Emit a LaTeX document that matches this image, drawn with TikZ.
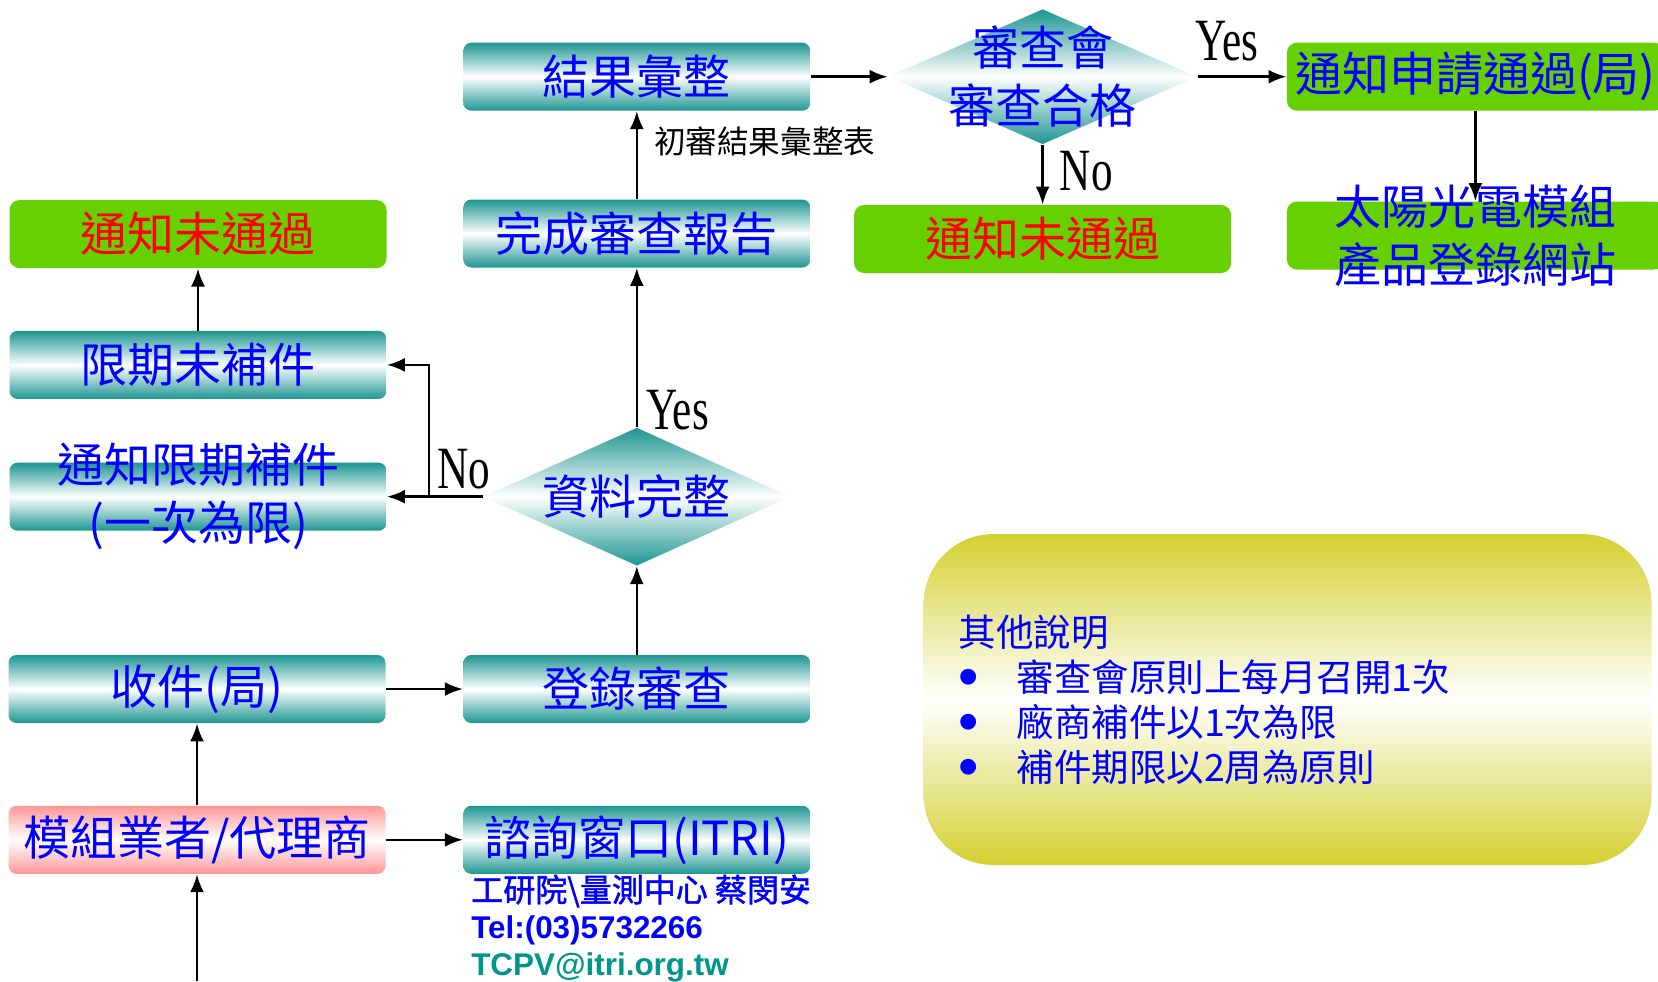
\documentclass[tikz,border=0pt]{standalone}
\usepackage{fontspec}
\usepackage{graphicx}
\setmainfont{Noto Sans CJK TC}
\newfontfamily\staffcjk{Noto Sans CJK TC}[FakeBold=1.5]
\newfontfamily\yesnofont{Liberation Serif}
\newfontfamily\contactfont{Liberation Sans}
\usetikzlibrary{positioning, arrows.meta, shapes.geometric}

\begin{document}
\begin{tikzpicture}[ node distance=31pt and 38.5pt,
flowbox/.style={rounded corners=4pt, minimum width=173.5pt, minimum height=34pt, inner sep=0pt, top color=boxteal, bottom color=boxteal, middle color=white, text=flowblue, font=\fontsize{23.5}{29}\selectfont, align=center},
widebox/.style={flowbox, minimum width=188.5pt},
vendorbox/.style={widebox, top color=vendorpink, bottom color=vendorpink, middle color=white},
resultbox/.style={fill=resultgreen, rounded corners=5pt, minimum width=188.5pt, minimum height=34pt, inner sep=0pt, font=\fontsize{23.5}{29}\selectfont, align=center},
decision/.style={diamond, minimum width=153.5pt, minimum height=69pt, inner sep=0pt, top color=boxteal, bottom color=boxteal, middle color=white},
boxtext/.style={text=flowblue, font=\fontsize{23.5}{29}\selectfont, align=center, inner sep=0pt},
notebox/.style={rounded corners=35pt, minimum width=364pt, minimum height=165.5pt, text width=329pt, inner xsep=17.5pt, inner ysep=0pt, top color=notegold, bottom color=notegold, middle color=white, text=flowblue, font=\fontsize{18.75}{22.5}\selectfont, align=left},
contact/.style={inner sep=0pt, align=left, text=flowblue, font=\contactfont\bfseries\fontsize{15.7}{18.5}\selectfont},
flownote/.style={inner sep=0pt, font=\fontsize{15.8}{19}\selectfont},
choice/.style={inner sep=0pt, font=\yesnofont\fontsize{30}{30}\selectfont},
arrow/.style={line width=1.3pt, -{Latex[length=9pt, width=7pt]}} ]

% Define colors
\definecolor{boxteal}{RGB}{30, 150, 146}
\definecolor{resultgreen}{RGB}{102, 208, 0}
\definecolor{vendorpink}{RGB}{255, 150, 150}
\definecolor{notegold}{RGB}{212, 208, 48}
\definecolor{flowblue}{RGB}{0, 0, 255}
\definecolor{failred}{RGB}{255, 0, 0}
\definecolor{mailteal}{RGB}{0, 150, 140}

\useasboundingbox (0pt,0pt) rectangle (829pt,-490.5pt);
\coordinate (frame south) at (0pt,-490.5pt);

% Nodes
\node[widebox] (recv) at (98.5pt,-344.5pt) {收件(局)};
\node[vendorbox, below=41pt of recv] (vendor) {模組業者/代理商};
\node[flowbox, right=of recv] (register) {登錄審查};
\node[flowbox, right=of vendor] (consult) {諮詢窗口(ITRI)};
\node[decision, above=44.25pt of register, label={[boxtext]center:資料完整}] (check) {};
\node[flowbox, above=79.7pt of check] (report) {完成審查報告};
\node[flowbox, above=44pt of report] (summary) {結果彙整};
\node[decision, minimum width=154.5pt, minimum height=67.5pt, right=of summary, label={[boxtext]center:審查會\\審查合格}] (review) {};
\node[resultbox, text=flowblue, right=44.5pt of review] (approve) {通知申請通過(局)};
\node[resultbox, below=45pt of approve, label={[boxtext]center:太陽光電模組\\產品登錄網站}] (website) {};
\node[resultbox, text=failred, below=30pt of review] (reject2) {通知未通過};
\node[widebox, left=48pt of check, label={[boxtext]center:通知限期補件\\(一次為限)}] (supplement) {};
\node[widebox, above=31.5pt of supplement] (overdue) {限期未補件};
\node[resultbox, text=failred, above=31pt of overdue] (reject1) {通知未通過};
\node[notebox, right=56.25pt of register, yshift=-5.25pt] (notes) {其他說明\\
\makebox[29pt][l]{\smash{\raisebox{-0.15em}{\scalebox{1.55}{\contactfont\textbullet}}}}審查會原則上每月召開1次\\
\makebox[29pt][l]{\smash{\raisebox{-0.15em}{\scalebox{1.55}{\contactfont\textbullet}}}}廠商補件以1次為限\\
\makebox[29pt][l]{\smash{\raisebox{-0.15em}{\scalebox{1.55}{\contactfont\textbullet}}}}補件期限以2周為原則};
\node[contact, below=0pt of consult.south west, anchor=north west, xshift=4pt] (itri) {{\staffcjk\mdseries\fontsize{16}{18.5}\selectfont 工研院\textbackslash 量測中心 蔡閔安}\\
Tel:(03)5732266\\
\textcolor{mailteal}{TCPV@itri.org.tw}};

\coordinate[left=27pt of check.west] (nofork);
\coordinate (entry) at (frame south -| vendor);

% Arrows
\draw[arrow] (entry) -- (vendor);
\draw[arrow] (vendor) -- (recv);
\draw[arrow] (vendor) -- (consult);
\draw[arrow] (recv) -- (register);
\draw[arrow] (register) -- (check);
\draw[arrow] (check) -- node[choice, pos=0.11, right=4pt] {\scalebox{0.72}[1]{Yes}} (report);
\draw[arrow] (check.west) -- node[choice, pos=0.35, above=3pt] {\scalebox{0.72}[1]{No}} (nofork) |- (overdue.east);
\draw[arrow] (nofork) -- (supplement);
\draw[arrow] (overdue) -- (reject1);
\draw[arrow] (report) -- node[flownote, pos=0.65, right=8pt] {初審結果彙整表} (summary);
\draw[arrow] (summary) -- (review);
\draw[arrow] (review) -- node[choice, pos=0.33, above=7pt] {\scalebox{0.72}[1]{Yes}} (approve);
\draw[arrow] (review) -- node[choice, pos=0.44, right=8pt] {\scalebox{0.72}[1]{No}} (reject2);
\draw[arrow] (approve) -- (website);

\end{tikzpicture}
\end{document}
